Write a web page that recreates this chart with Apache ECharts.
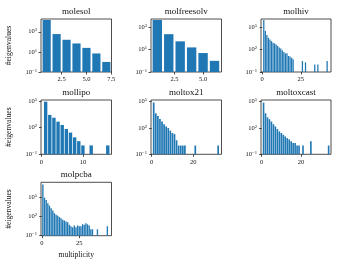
<!DOCTYPE html>
<html><head><meta charset="utf-8">
<script src="https://cdn.jsdelivr.net/npm/echarts@6/dist/echarts.min.js"></script>
<style>html,body{margin:0;padding:0;background:#fff}#c{width:338px;height:266px}</style>
</head><body><div id="c"></div>
<script>
// ---------- data ----------
const titles = ['molesol', 'molfreesolv', 'molhiv', 'mollipo', 'moltox21', 'moltoxcast', 'molpcba'];
// histogram bins: centre of first bin and bin width, in multiplicity units
const binStart = [1, 1, 1, 1, 1, 1, 0.75];
const binWidth = [1, 1, 1, 1, 1, 1, 1.1];
// #eigenvalues per bin
const molesol = [14800, 590, 160, 69, 25, 7, 1];
const molfreesolv = [4600, 245, 56, 16, 5, 1];
const molhiv = [1000000, 32000, 9100, 4000, 2400, 1400, 830, 690, 500, 320, 200, 145, 85, 50, 32, 32, 14, 12, 8, 5,
  0, 0, 0, 0, 0, 3, 0, 2, 0, 0, 0, 0, 0, 1, 0, 1, 0, 0, 0, 0, 0, 3];
const mollipo = [83000, 2700, 1300, 470, 200, 70, 28, 8, 3, 1, 0, 1, 0, 0, 0, 1];
const moltox21 = [81000, 4700, 2300, 1070, 540, 270, 150, 98, 49, 27, 20, 4, 1, 1, 1, 1,
  0, 0, 0, 0, 1, 0, 0, 0, 0, 0, 0, 0, 0, 0, 0, 1];
const moltoxcast = [79000, 4700, 1660, 1000, 540, 270, 150, 76, 40, 27, 17, 11, 7, 5, 3, 2, 2, 1, 1,
  0, 1, 0, 0, 0, 3, 0, 0, 0, 0, 0, 0, 0, 0, 1];
const molpcba = [10000000, 87000, 38000, 11700, 5000, 1950, 830, 330, 180, 126, 80, 55, 30, 23, 17, 13, 5, 3, 2, 4,
  2, 4, 3, 3, 6, 5, 9, 6, 4, 1, 1, 0, 0, 1, 0, 0, 0, 0, 0, 3];
const counts = [molesol, molfreesolv, molhiv, mollipo, moltox21, moltoxcast, molpcba];
// axis ranges and ticks
const xRange = [[0.43, 7.52], [0.45, 6.61], [-0.8, 44.5], [-0.12, 16.9], [-0.3, 33.6], [-0.3, 35.2], [-0.5, 46.4]];
const xTicks = [[2.5, 5, 7.5], [2.5, 5], [0, 25], [0, 10], [0, 20], [0, 20], [0, 25]];
const xDecimals = [1, 1, 0, 0, 0, 0, 0];
const yMin = 0.1;
const yMaxExp = [4.27, 3.75, 6.12, 5.11, 5.19, 5.19, 7.33];
const yTicks = [[0.1, 10, 1000], [0.1, 10, 1000], [0.1, 100, 1e5], [0.1, 100, 1e5], [0.1, 100, 1e5], [0.1, 100, 1e5], [0.1, 100, 1e5]];
const yLabel = '#eigenvalues';
const xLabel = 'multiplicity';

// ---------- layout ----------
const F = '"Liberation Serif", "DejaVu Serif", serif';
const colL = [41, 151, 261], colR = [111.5, 221.5, 331];
const rowT = [19, 100, 182.3], rowB = [72, 154.3, 235.7];
const BLUE = '#1f77b4', INK = '#222';

const grids = [], xAxes = [], yAxes = [], series = [], graphics = [];
titles.forEach((t, i) => {
  const r = Math.floor(i / 3), c = i % 3;
  const left = colL[c], top = rowT[r], w = colR[c] - colL[c], h = rowB[r] - rowT[r];
  grids.push({left, top, width: w, height: h, show: true, borderColor: INK, borderWidth: 0.8, backgroundColor: 'transparent', containLabel: false});
  const [xmin, xmax] = xRange[i];
  xAxes.push({
    type: 'value', gridIndex: i, min: xmin, max: xmax,
    axisLine: {show: false}, splitLine: {show: false},
    axisTick: {show: true, length: 2.5, lineStyle: {color: INK, width: 0.8}, customValues: xTicks[i]},
    axisLabel: {customValues: xTicks[i], margin: 4, fontSize: 6.5, fontFamily: F, color: '#111',
      formatter: v => Number(v).toFixed(xDecimals[i])},
    name: i === 6 ? xLabel : '', nameLocation: 'middle', nameGap: 15,
    nameTextStyle: {fontSize: 7.6, fontFamily: F, color: '#111'}
  });
  yAxes.push({
    type: 'log', logBase: 10, gridIndex: i, min: yMin, max: Math.pow(10, yMaxExp[i]), startValue: yMin,
    axisLine: {show: false}, splitLine: {show: false}, minorTick: {show: false},
    axisTick: {show: true, length: 2.5, lineStyle: {color: INK, width: 0.8}, customValues: yTicks[i]},
    axisLabel: {customValues: yTicks[i], margin: 4,
      formatter: v => { const e = Math.round(Math.log10(v)); return '{b|10}{s|' + (e < 0 ? '\u2212' + (-e) : e) + '}'; },
      rich: {b: {fontSize: 6.5, fontFamily: F, color: '#111', lineHeight: 8},
             s: {fontSize: 4.6, fontFamily: F, color: '#111', verticalAlign: 'top', lineHeight: 8}}},
    name: c === 0 ? yLabel : '', nameLocation: 'middle', nameGap: 28, nameRotate: 90,
    nameTextStyle: {fontSize: 7.6, fontFamily: F, color: '#111'}
  });
  const data = [];
  counts[i].forEach((v, k) => { if (v > 0) data.push([binStart[i] + k * binWidth[i], v]); });
  const pxPerUnit = w / (xmax - xmin);
  series.push({type: 'bar', xAxisIndex: i, yAxisIndex: i, data,
    barWidth: pxPerUnit * binWidth[i] * 0.82, itemStyle: {color: BLUE}, silent: true, animation: false});
  graphics.push({type: 'text', x: left + w / 2, y: top - 7.5,
    style: {text: t, font: '9px ' + F, fill: '#111', align: 'center', verticalAlign: 'middle', textAlign: 'center', textVerticalAlign: 'middle'}});
});

const chart = echarts.init(document.getElementById('c'), null, {renderer: 'canvas'});
chart.setOption({animation: false, grid: grids, xAxis: xAxes, yAxis: yAxes, series, graphic: graphics});
</script></body></html>
